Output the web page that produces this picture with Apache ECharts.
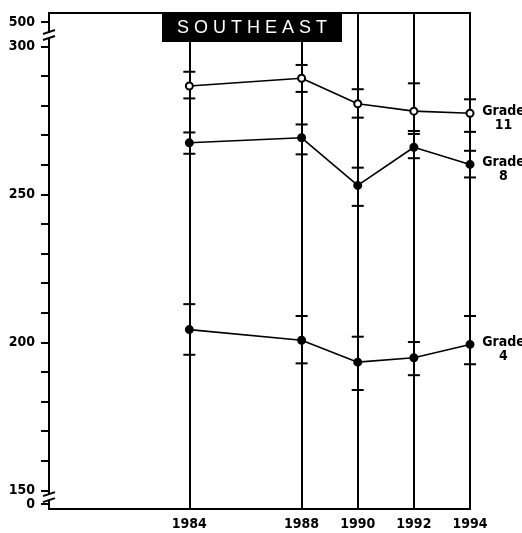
<!DOCTYPE html>
<html>
<head>
<meta charset="utf-8">
<script src="https://cdn.jsdelivr.net/npm/echarts@6/dist/echarts.min.js"></script>
<style>
  html, body { margin: 0; padding: 0; background: #fff; }
  #chart { width: 522px; height: 533px; }
</style>
</head>
<body>
<div id="chart"></div>
<script>
// Assessment years and average scale scores, with the bounds of each score's interval
const years = [1984, 1988, 1990, 1992, 1994];

const grade11 = [286.6, 289.2, 280.6, 278.1, 277.4];
const grade11Low = [282.4, 284.6, 275.9, 271.4, 271.1];
const grade11High = [291.4, 293.7, 285.5, 287.5, 282.1];

const grade8 = [267.4, 269.1, 253.0, 265.9, 260.1];
const grade8Low = [263.7, 263.5, 246.1, 262.2, 255.7];
const grade8High = [270.9, 273.6, 259.0, 270.4, 264.7];

const grade4 = [204.3, 200.7, 193.3, 194.8, 199.3];
const grade4Low = [195.8, 192.9, 183.9, 188.9, 192.6];
const grade4High = [212.9, 208.9, 201.9, 200.1, 208.9];

const gradeNumbers = ['11', '8', '4'];
const regionTitle = 'SOUTHEAST';

// Scale ticks: every 10 points, labelled every 50
const yTicks = [150, 160, 170, 180, 190, 200, 210, 220, 230, 240, 250, 260, 270, 280, 290, 300];
const yLabels = [150, 200, 250, 300];
const brokenEndLabels = ['0', '500'];

// The scale is broken at both ends: 0 sits just below 150 and 500 just above 300
const AXIS_MIN = 143.7, AXIS_MAX = 311.25;
const ZERO_SPOT = 145.4, TOP_SPOT = 308.2;
const BREAK_LOW = 147.7, BREAK_HIGH = 303.8;

const FONT = "'Liberation Sans Narrow', 'DejaVu Sans Condensed', sans-serif";
const TEXT_SIZE = 14;

function intervalTicks(params, api) {
  const lo = api.coord([api.value(0), api.value(1)]);
  const hi = api.coord([api.value(0), api.value(2)]);
  const half = 6;
  const style = { stroke: '#000', lineWidth: 2 };
  return {
    type: 'group',
    children: [
      { type: 'line', shape: { x1: lo[0] - half, y1: lo[1], x2: lo[0] + half, y2: lo[1] }, style },
      { type: 'line', shape: { x1: hi[0] - half, y1: hi[1], x2: hi[0] + half, y2: hi[1] }, style }
    ]
  };
}

function gradeSeries(name, num, values, open) {
  const piece = { fontFamily: FONT, fontSize: TEXT_SIZE, fontWeight: 'bold', color: '#000', width: 40, align: 'center', lineHeight: 14 };
  return {
    name: name,
    type: 'line',
    data: years.map((y, i) => [y, values[i]]),
    symbol: 'circle',
    symbolSize: 7,
    z: 5,
    lineStyle: { color: '#000', width: 1.6 },
    itemStyle: { color: open ? '#fff' : '#000', borderColor: '#000', borderWidth: 2 },
    label: {
      show: true,
      position: 'right',
      distance: 9,
      offset: [0, 5],
      formatter: p => p.dataIndex === years.length - 1 ? '{g|Grade}\n{n|' + num + '}' : '',
      rich: { g: piece, n: piece }
    },
    emphasis: { disabled: true },
    animation: false
  };
}

function intervalSeries(low, high) {
  return {
    type: 'custom',
    renderItem: intervalTicks,
    data: years.map((y, i) => [y, low[i], high[i]]),
    z: 4,
    silent: true,
    animation: false
  };
}

const chart = echarts.init(document.getElementById('chart'), null, { renderer: 'canvas' });

const option = {
  backgroundColor: '#fff',
  animation: false,
  title: {
    text: regionTitle.split('').join(' '),
    left: 162,
    top: 14,
    padding: [5, 15, 5, 15],
    backgroundColor: '#000',
    textStyle: { color: '#fff', fontFamily: "'Liberation Sans', Arial, sans-serif", fontSize: 18, fontWeight: 'normal', lineHeight: 18 }
  },
  grid: {
    left: 49, right: 52, top: 13, bottom: 24,
    show: true, borderColor: '#000', borderWidth: 2, backgroundColor: 'transparent'
  },
  xAxis: {
    type: 'value',
    min: 1979, max: 1994,
    axisLine: { show: true, lineStyle: { color: '#000', width: 2 } },
    axisTick: { show: false },
    splitLine: { show: false },
    axisLabel: {
      customValues: years,
      margin: 8,
      color: '#000',
      fontFamily: FONT,
      fontSize: TEXT_SIZE,
      fontWeight: 'bold',
      formatter: v => String(v)
    }
  },
  yAxis: {
    type: 'value',
    min: AXIS_MIN, max: AXIS_MAX,
    axisLine: { show: true, lineStyle: { color: '#000', width: 2 } },
    axisTick: {
      show: true,
      customValues: yTicks.concat([ZERO_SPOT, TOP_SPOT]),
      length: 8,
      lineStyle: { color: '#000', width: 2 }
    },
    splitLine: { show: false },
    axisLabel: {
      customValues: yLabels.concat([ZERO_SPOT, TOP_SPOT]),
      margin: 14,
      color: '#000',
      fontFamily: FONT,
      fontSize: TEXT_SIZE,
      fontWeight: 'bold',
      formatter: v => {
        if (Math.abs(v - ZERO_SPOT) < 0.01) return brokenEndLabels[0];
        if (Math.abs(v - TOP_SPOT) < 0.01) return brokenEndLabels[1];
        return String(v);
      }
    }
  },
  series: [
    Object.assign(gradeSeries('Grade 11', gradeNumbers[0], grade11, true), {
      markLine: {
        silent: true,
        symbol: 'none',
        label: { show: false },
        lineStyle: { color: '#000', width: 2, type: 'solid' },
        data: years.map(y => ({ xAxis: y }))
      }
    }),
    gradeSeries('Grade 8', gradeNumbers[1], grade8, false),
    gradeSeries('Grade 4', gradeNumbers[2], grade4, false),
    intervalSeries(grade11Low, grade11High),
    intervalSeries(grade8Low, grade8High),
    intervalSeries(grade4Low, grade4High)
  ]
};

chart.setOption(option);

// Break marks on the vertical scale
function breakMark(val) {
  const p = chart.convertToPixel({ gridIndex: 0 }, [1979, val]);
  const x = p[0], y = p[1];
  return [
    { type: 'rect', shape: { x: x - 3, y: y - 3, width: 6, height: 6 }, style: { fill: '#fff' }, z: 100 },
    { type: 'line', shape: { x1: x - 6, y1: y - 1, x2: x + 6, y2: y - 5 }, style: { stroke: '#000', lineWidth: 2 }, z: 101 },
    { type: 'line', shape: { x1: x - 6, y1: y + 5, x2: x + 6, y2: y + 1 }, style: { stroke: '#000', lineWidth: 2 }, z: 101 }
  ];
}

chart.setOption({ graphic: breakMark(BREAK_HIGH).concat(breakMark(BREAK_LOW)) });
</script>
</body>
</html>
